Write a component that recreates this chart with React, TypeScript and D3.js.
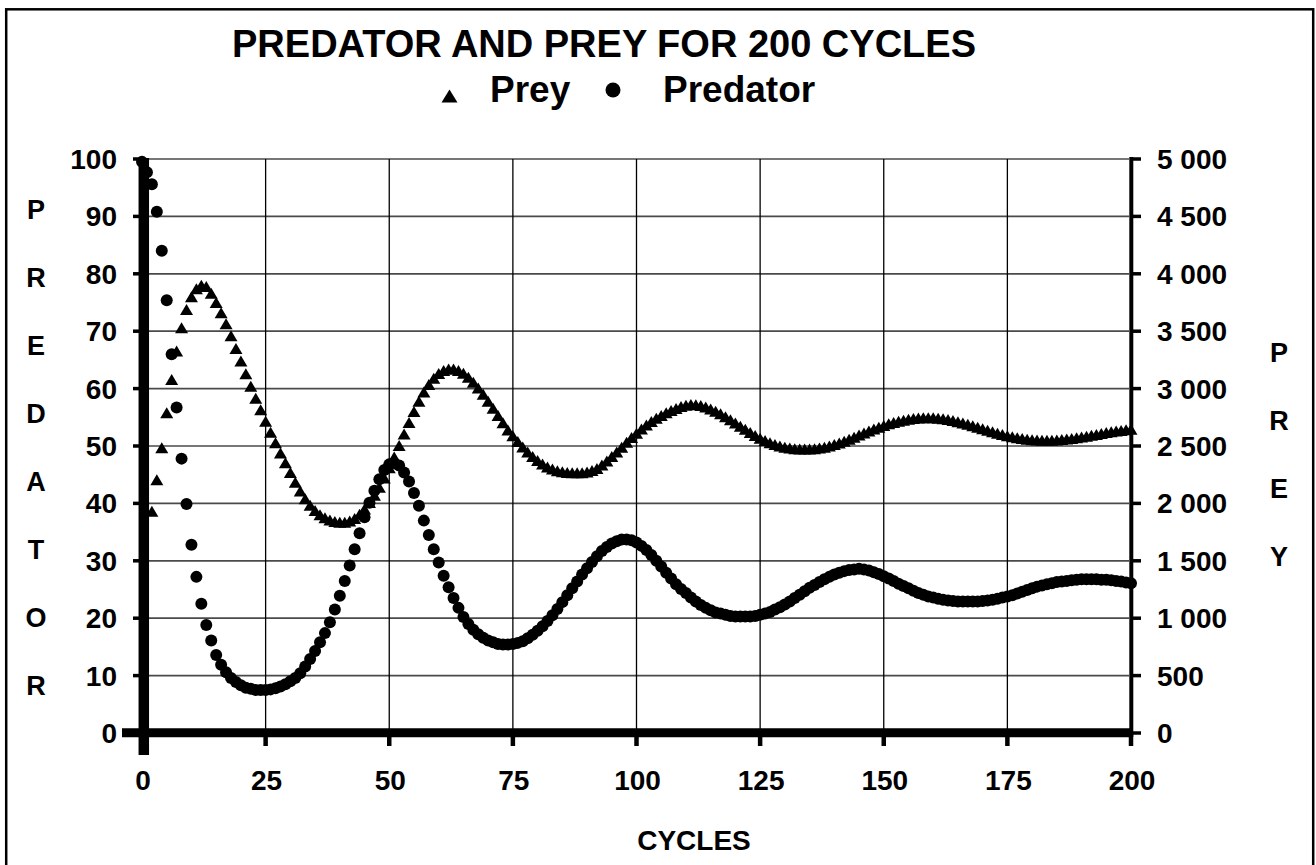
import React from "react";
import * as d3 from "d3";

const cycles: number[] = d3.range(0, 201);

const predator: number[] = [
  99.5, 97.7, 95.6, 90.8, 84.0, 75.4, 66.0, 56.7, 47.8, 39.9,
  32.8, 27.2, 22.5, 18.8, 16.1, 13.6, 11.9, 10.6, 9.6, 8.9,
  8.3, 7.9, 7.7, 7.5, 7.5, 7.5, 7.6, 7.8, 8.1, 8.5,
  9.0, 9.6, 10.4, 11.6, 12.9, 14.3, 15.8, 17.4, 19.3, 21.5,
  23.9, 26.5, 29.2, 32.0, 34.8, 37.6, 40.1, 42.2, 44.2, 45.8,
  46.8, 47.0, 46.6, 45.4, 43.8, 41.8, 39.6, 37.0, 34.5, 32.0,
  29.7, 27.4, 25.4, 23.5, 21.8, 20.2, 19.0, 18.0, 17.2, 16.6,
  16.1, 15.8, 15.5, 15.4, 15.4, 15.5, 15.7, 16.0, 16.5, 17.1,
  17.8, 18.6, 19.5, 20.5, 21.6, 22.8, 24.0, 25.2, 26.4, 27.6,
  28.7, 29.8, 30.8, 31.7, 32.4, 33.0, 33.4, 33.7, 33.7, 33.6,
  33.2, 32.6, 31.9, 31.0, 30.0, 29.0, 27.9, 26.9, 25.9, 25.1,
  24.4, 23.6, 22.9, 22.3, 21.8, 21.4, 21.0, 20.8, 20.6, 20.4,
  20.3, 20.3, 20.3, 20.3, 20.4, 20.6, 20.8, 21.1, 21.5, 21.9,
  22.4, 22.9, 23.5, 24.1, 24.7, 25.3, 25.8, 26.3, 26.8, 27.2,
  27.6, 27.9, 28.2, 28.4, 28.5, 28.6, 28.5, 28.3, 28.0, 27.7,
  27.3, 26.9, 26.5, 26.0, 25.6, 25.2, 24.8, 24.4, 24.1, 23.8,
  23.6, 23.4, 23.2, 23.1, 23.0, 22.9, 22.9, 22.9, 22.9, 22.9,
  23.0, 23.1, 23.2, 23.4, 23.6, 23.8, 24.0, 24.3, 24.6, 24.9,
  25.2, 25.5, 25.7, 25.9, 26.1, 26.3, 26.4, 26.5, 26.6, 26.7,
  26.8, 26.8, 26.8, 26.8, 26.7, 26.7, 26.6, 26.5, 26.4, 26.2,
  26.1,
];

const prey: (number | null)[] = [
  null, null, 1931, 2207, 2484, 2790, 3080, 3327, 3531, 3690,
  3800, 3870, 3900, 3890, 3830, 3750, 3660, 3565, 3460, 3350,
  3240, 3130, 3020, 2915, 2815, 2715, 2620, 2528, 2440, 2355,
  2270, 2185, 2108, 2040, 1984, 1938, 1902, 1875, 1856, 1843,
  1836, 1836, 1846, 1868, 1905, 1952, 2008, 2070, 2140, 2222,
  2310, 2405, 2505, 2605, 2705, 2800, 2890, 2970, 3035, 3090,
  3132, 3158, 3170, 3170, 3158, 3133, 3098, 3055, 3005, 2950,
  2890, 2829, 2766, 2703, 2640, 2590, 2540, 2492, 2448, 2408,
  2373, 2343, 2318, 2299, 2285, 2275, 2269, 2266, 2266, 2268,
  2274, 2287, 2305, 2335, 2370, 2408, 2448, 2490, 2532, 2573,
  2612, 2648, 2682, 2713, 2741, 2766, 2789, 2809, 2826, 2843,
  2855, 2862, 2860, 2853, 2840, 2823, 2803, 2780, 2755, 2728,
  2700, 2672, 2645, 2618, 2592, 2568, 2547, 2528, 2512, 2499,
  2489, 2482, 2477, 2474, 2473, 2474, 2477, 2482, 2490, 2500,
  2512, 2526, 2542, 2559, 2577, 2595, 2613, 2631, 2648, 2664,
  2679, 2693, 2705, 2716, 2725, 2733, 2739, 2743, 2745, 2746,
  2745, 2742, 2737, 2730, 2722, 2712, 2701, 2689, 2676, 2663,
  2650, 2637, 2624, 2612, 2600, 2590, 2580, 2572, 2565, 2559,
  2555, 2552, 2550, 2550, 2551, 2553, 2556, 2560, 2565, 2571,
  2578, 2585, 2593, 2601, 2609, 2617, 2624, 2630, 2636, 2641,
  2645,
];

const xTicks: number[] = [0, 25, 50, 75, 100, 125, 150, 175, 200];
const leftTicks: number[] = [0, 10, 20, 30, 40, 50, 60, 70, 80, 90, 100];
const rightTicks: number[] = [0, 500, 1000, 1500, 2000, 2500, 3000, 3500, 4000, 4500, 5000];

const title = "PREDATOR AND PREY FOR 200 CYCLES";
const leftTitle = ["P", "R", "E", "D", "A", "T", "O", "R"];
const rightTitle = ["P", "R", "E", "Y"];

const W = 1316;
const H = 865;
const FONT = "'Liberation Sans', Arial, Helvetica, sans-serif";

const x = d3.scaleLinear().domain([0, 200]).range([142, 1131]);
const yL = d3.scaleLinear().domain([0, 100]).range([733, 159]);
const yR = d3.scaleLinear().domain([0, 5000]).range([733, 159]);

const fmtR = (v: number) => {
  const s = String(v);
  if (s.length > 3) return s.slice(0, s.length - 3) + " " + s.slice(s.length - 3);
  return s;
};

const triPath = (w: number, h: number) =>
  `M0,${-h / 2}L${w / 2},${h / 2}L${-w / 2},${h / 2}Z`;

export default function App() {
  const triangle = triPath(13, 11);
  const left0 = x(0);
  return (
    <svg
      width={W}
      height={H}
      viewBox={`0 0 ${W} ${H}`}
      style={{ position: "absolute", left: 0, top: 0, background: "#fff" }}
      fontFamily={FONT}
      fontWeight="bold"
    >
      <rect x={0} y={0} width={W} height={H} fill="#fff" />
      <rect x={6.2} y={9.3} width={1307} height={900} fill="none" stroke="#000" strokeWidth={2.5} />

      <text x={604} y={57} textAnchor="middle" fontSize={38}>{title}</text>

      {/* legend */}
      <path d={triPath(16, 13)} transform="translate(449.5,96)" fill="#000" />
      <text x={490} y={102} fontSize={37}>Prey</text>
      <circle cx={613} cy={90} r={7.5} fill="#000" />
      <text x={663} y={102} fontSize={37}>Predator</text>

      {/* horizontal gridlines */}
      {leftTicks.map((t) => (
        <line key={"h" + t} x1={149} x2={1129} y1={yL(t)} y2={yL(t)} stroke="#4a4a4a" strokeWidth={1.7} />
      ))}
      {/* vertical gridlines */}
      {xTicks.slice(1, -1).map((t) => (
        <line key={"v" + t} x1={x(t)} x2={x(t)} y1={yL(100)} y2={yL(0)} stroke="#000" strokeWidth={1.3} />
      ))}

      {/* left ticks and labels */}
      {leftTicks.map((t) => (
        <g key={"l" + t}>
          <line x1={133} x2={140} y1={yL(t)} y2={yL(t)} stroke="#000" strokeWidth={3.5} />
          <text x={117} y={yL(t) + 10} textAnchor="end" fontSize={28}>{t}</text>
        </g>
      ))}
      {/* right ticks and labels */}
      {rightTicks.map((t) => (
        <g key={"r" + t}>
          <line x1={1131} x2={1141} y1={yR(t)} y2={yR(t)} stroke="#000" strokeWidth={3.5} />
          <text x={1157} y={yR(t) + 10} textAnchor="start" fontSize={28}>{fmtR(t)}</text>
        </g>
      ))}
      {/* bottom ticks and labels */}
      {xTicks.map((t) => (
        <g key={"b" + t}>
          <line x1={x(t)} x2={x(t)} y1={733} y2={746} stroke="#000" strokeWidth={4.5} />
          <text x={x(t) + 1} y={790} textAnchor="middle" fontSize={28}>{t}</text>
        </g>
      ))}

      {/* axes */}
      <line x1={1131.3} x2={1131.3} y1={157} y2={737} stroke="#000" strokeWidth={4} />
      <line x1={122} x2={1133} y1={732.7} y2={732.7} stroke="#000" strokeWidth={9} />
      <line x1={left0 + 1.8} x2={left0 + 1.8} y1={158} y2={755} stroke="#000" strokeWidth={10.5} />

      {/* series */}
      {cycles.map((c, i) =>
        prey[i] == null ? null : (
          <path key={"p" + c} d={triangle} transform={`translate(${x(c)},${yR(prey[i] as number)})`} fill="#000" />
        )
      )}
      {cycles.map((c, i) => (
        <circle key={"c" + c} cx={x(c)} cy={yL(predator[i])} r={6} fill="#000" />
      ))}

      {/* axis titles */}
      {leftTitle.map((ch, i) => (
        <text key={"lt" + i} x={36} y={209 + i * 68 + 10} textAnchor="middle" fontSize={27}>{ch}</text>
      ))}
      {rightTitle.map((ch, i) => (
        <text key={"rt" + i} x={1279} y={352 + i * 68 + 10} textAnchor="middle" fontSize={27}>{ch}</text>
      ))}
      <text x={694} y={850} textAnchor="middle" fontSize={28}>CYCLES</text>
    </svg>
  );
}
